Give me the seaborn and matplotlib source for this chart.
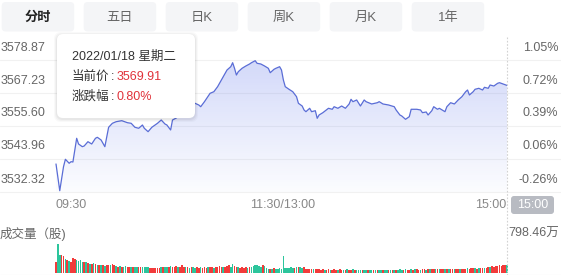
import numpy as np
import pandas as pd
import matplotlib
matplotlib.use("Agg")
import matplotlib.pyplot as plt
import seaborn as sns
from matplotlib.patches import FancyBboxPatch, Polygon

# ---------------- data ----------------
tab_labels = ["分时", "五日", "日K", "周K", "月K", "1年"]
price_ticks = [3578.87, 3567.23, 3555.60, 3543.96, 3532.32]
pct_ticks = ["1.05%", "0.72%", "0.39%", "0.06%", "-0.26%"]
time_labels = ["09:30", "11:30/13:00", "15:00"]
tooltip_date = "2022/01/18 星期二"
tooltip_price = "3569.91"
tooltip_change = "0.80%"
volume_max_label = "798.46万"

minutes = [0, 2, 4, 5, 7, 8, 9, 11, 12, 14, 15, 17, 19, 21, 22, 24, 26, 28, 30, 32,
           35, 38, 40, 42, 44, 46, 47, 49, 51, 54, 56, 58, 59, 61, 62, 64, 69, 74, 76, 77,
           79, 82, 84, 86, 87, 89, 91, 93, 94, 95, 96, 97, 99, 101, 103, 104, 106, 107, 109, 111,
           113, 114, 116, 117, 119, 120, 121, 122, 124, 126, 128, 129, 131, 132, 133, 135, 136, 138, 139, 140,
           142, 145, 147, 148, 150, 152, 154, 156, 157, 158, 160, 162, 164, 165, 168, 171, 172, 174, 177, 180,
           181, 183, 184, 186, 188, 189, 192, 194, 195, 197, 198, 200, 201, 203, 204, 207, 208, 210, 212, 214,
           216, 218, 219, 220, 222, 223, 225, 227, 228, 230, 231, 233, 235, 236, 238, 240]
prices = [3542.20, 3532.78, 3541.25, 3543.86, 3542.45, 3543.01, 3542.90, 3551.26, 3549.25, 3548.30,
          3548.55, 3550.06, 3549.25, 3551.26, 3551.61, 3550.66, 3548.30, 3555.14, 3556.55, 3557.11,
          3557.47, 3556.76, 3556.55, 3555.14, 3554.79, 3555.95, 3554.79, 3553.59, 3555.14, 3556.55,
          3557.71, 3556.30, 3555.95, 3554.19, 3557.71, 3558.42, 3561.24, 3563.60, 3563.00, 3562.40,
          3564.17, 3567.13, 3567.69, 3569.46, 3570.65, 3572.98, 3575.34, 3576.51, 3577.92, 3575.94,
          3573.58, 3574.74, 3575.94, 3576.75, 3577.46, 3577.92, 3578.62, 3577.71, 3577.46, 3576.75,
          3575.94, 3574.39, 3575.59, 3575.94, 3576.51, 3575.34, 3571.82, 3569.46, 3568.54, 3567.69,
          3565.93, 3563.60, 3562.65, 3561.24, 3560.64, 3561.84, 3560.64, 3560.99, 3558.31, 3559.48,
          3560.29, 3561.84, 3561.49, 3562.40, 3561.84, 3562.65, 3561.84, 3563.36, 3565.01, 3564.17,
          3564.77, 3562.65, 3564.77, 3564.17, 3563.36, 3563.81, 3564.17, 3563.36, 3563.00, 3562.40,
          3561.24, 3559.48, 3559.12, 3557.96, 3558.88, 3561.49, 3561.49, 3561.24, 3560.29, 3560.54,
          3559.48, 3560.99, 3562.40, 3561.49, 3561.84, 3560.64, 3562.40, 3563.81, 3563.36, 3564.77,
          3565.93, 3567.69, 3568.29, 3566.53, 3567.69, 3568.54, 3568.89, 3568.29, 3569.24, 3568.89,
          3570.05, 3569.70, 3570.65, 3570.87, 3570.41, 3569.91]

volumes = [308, 798, 499, 490, 471, 381, 362, 346, 319, 409, 400, 362, 346, 362, 308, 308, 308, 272, 253, 253,
           272, 245, 237, 237, 218, 237, 199, 218, 237, 218, 245, 237, 199, 183, 199, 183, 183, 199, 183, 163,
           183, 163, 163, 183, 163, 183, 163, 163, 183, 163, 144, 150, 144, 140, 150, 144, 163, 163, 183, 163,
           183, 199, 183, 163, 199, 183, 163, 218, 183, 163, 163, 150, 163, 183, 150, 163, 144, 163, 150, 163,
           144, 163, 183, 163, 150, 163, 183, 199, 183, 163, 183, 199, 218, 183, 245, 199, 183, 163, 150, 163,
           150, 163, 144, 163, 183, 199, 218, 237, 199, 183, 218, 199, 136, 128, 120, 128, 136, 120, 128, 136, 128,
           471, 150, 144, 150, 163, 150, 144, 183, 163, 183, 150, 163, 123, 128, 120, 115, 123, 128, 115, 109,
           100, 109, 96, 100, 104, 96, 100, 109, 100, 96, 104, 100, 96, 100, 109, 96, 100, 104, 96, 90,
           82, 90, 82, 77, 85, 82, 90, 82, 77, 82, 90, 85, 82, 77, 82, 90, 85, 82, 90, 85,
           96, 100, 104, 100, 96, 109, 100, 96, 104, 100, 109, 104, 100, 96, 109, 104, 100, 109, 104, 115,
           115, 109, 120, 115, 109, 120, 115, 123, 115, 120, 128, 115, 120, 123, 115, 128, 120, 128, 136, 128,
           136, 144, 136, 128, 140, 136, 144, 150, 136, 183, 163, 199, 183, 205, 199, 215, 209, 218, 215, 226]
volume_dirs = ("rggrrgrgrrrggggrgrgr"
               "grgrgrgrrgrrgrgrggrr"
               "grggrrggggrrrrrrgrgg"
               "rgrrrgrrrgrgrggrrgrr"
               "rgrrgrrrrgrrrggrrgrr"
               "rrgrggggggrgggrgrgggg"
               "ggggggrgrggrrrrrgrrr"
               "rrgrrgrrrgrrgrgrrgrg"
               "ggrggrggrgrggrggrgrg"
               "rgggrgrrgrgrrgrrgrgr"
               "rgrgrrgrgrrgrrgrrrgr"
               "rrgrgrrgrrgrrrrrrrrg")

# ---------------- figure ----------------
W, H = 561, 275
sns.set_theme(style="white")
plt.rcParams["font.family"] = ["Liberation Sans", "Noto Sans CJK SC", "DejaVu Sans"]

fig = plt.figure(figsize=(W / 100, H / 100), dpi=100)
fig.patch.set_facecolor("white")


def px_axes(x0, y0, x1, y1):
    return fig.add_axes([x0 / W, 1 - y1 / H, (x1 - x0) / W, (y1 - y0) / H])


PX_PER_MIN = 451 / 240.0
X0 = 56
PX_PER_PT = 132 / (price_ticks[0] - price_ticks[-1])
xlim = (-X0 / PX_PER_MIN, (W - X0) / PX_PER_MIN)

# price axes
ax = px_axes(0, 35, W, 192)
for lv in price_ticks:
    ax.axhline(lv, color="#f1f1f1", lw=0.8, zorder=0, clip_on=False)

df = pd.DataFrame({"minute": minutes, "price": prices})
ybot = price_ticks[-1]
verts = list(zip(minutes, prices)) + [(minutes[-1], ybot), (minutes[0], ybot)]
clip_poly = Polygon(verts, closed=True, facecolor="none", edgecolor="none",
                    transform=ax.transData)
ax.add_patch(clip_poly)
grad = np.zeros((256, 1, 4))
grad[:, 0, 0] = 0.36
grad[:, 0, 1] = 0.45
grad[:, 0, 2] = 0.92
grad[:, 0, 3] = np.linspace(0.27, 0.02, 256)
im = ax.imshow(grad, extent=[minutes[0], minutes[-1], ybot, max(prices)],
               aspect="auto", origin="upper", zorder=1, interpolation="bilinear")
im.set_clip_path(clip_poly)
sns.lineplot(data=df, x="minute", y="price", ax=ax, color="#5a6dd6", lw=0.9, zorder=3)
ax.set_xlim(*xlim)
ax.set_ylim(ybot, ybot + 157 / PX_PER_PT)
ax.axis("off")

for lv in price_ticks:
    ax.annotate(f"{lv:.2f}", xy=(0, lv), xycoords=("axes fraction", "data"),
                xytext=(0.5, 9), textcoords="offset points", ha="left", va="center",
                fontsize=9, color="#666666", annotation_clip=False)
for lv, lbl in zip(price_ticks, pct_ticks):
    ax.annotate(lbl, xy=(1, lv), xycoords=("axes fraction", "data"),
                xytext=(-2, 9), textcoords="offset points", ha="right", va="center",
                fontsize=9, color="#666666", annotation_clip=False)

# volume axes
vax = px_axes(0, 244, W, 273.3)
cmap = {"r": "#f23b3b", "g": "#2cc59c"}
vax.bar(range(len(volumes)), volumes, width=0.85,
        color=[cmap[c] for c in volume_dirs], linewidth=0)
vax.set_xlim(*xlim)
vax.set_ylim(0, 798.46)
vax.axis("off")

# overlay (pixel coordinates)
ov = px_axes(0, 0, W, H)
ov.set_xlim(0, W)
ov.set_ylim(H, 0)
ov.axis("off")
ov.patch.set_alpha(0)

# tabs
for i, lbl in enumerate(tab_labels):
    x0 = 1.7 + 82 * i
    ov.add_patch(FancyBboxPatch((x0, 2), 72.5, 29.5, boxstyle="round,pad=0,rounding_size=4",
                                facecolor="#f4f5f7", edgecolor="none"))
    ov.text(x0 + 36.25, 17.5, lbl, ha="center", va="center", fontsize=9.5,
            color="#222222" if i == 0 else "#666666",
            fontweight="bold" if i == 0 else "normal")

# vertical dashed line at close
ov.plot([507, 507], [37, 275], color="#d2d2d2", lw=0.8, linestyle=(0, (1.5, 1.5)))
# bottom line
ov.plot([0, W], [274.5, 274.5], color="#e6e6e6", lw=0.8)

# tooltip with soft shadow
for k, a in enumerate([0.025, 0.03, 0.04]):
    d = 3 - k
    ov.add_patch(FancyBboxPatch((57 - d, 34 - d + 1), 138 + 2 * d, 84 + 2 * d,
                                boxstyle="round,pad=0,rounding_size=7",
                                facecolor="#000000", alpha=a, edgecolor="none"))
ov.add_patch(FancyBboxPatch((57, 34), 138, 84, boxstyle="round,pad=0,rounding_size=6",
                            facecolor="white", edgecolor="none"))
ov.text(72, 56.5, tooltip_date, ha="left", va="center", fontsize=9, color="#333333")
ov.text(72, 76.5, "当前价", ha="left", va="center", fontsize=9, color="#333333")
ov.text(111, 76.5, ":", ha="left", va="center", fontsize=9, color="#333333")
ov.text(117, 76.5, tooltip_price, ha="left", va="center", fontsize=9, color="#e0323a")
ov.text(72, 96.5, "涨跌幅", ha="left", va="center", fontsize=9, color="#333333")
ov.text(111, 96.5, ":", ha="left", va="center", fontsize=9, color="#333333")
ov.text(117, 96.5, tooltip_change, ha="left", va="center", fontsize=9, color="#e0323a")

# time labels
ov.text(56, 205, time_labels[0], ha="left", va="center", fontsize=9, color="#888888")
ov.text(283, 205, time_labels[1], ha="center", va="center", fontsize=9, color="#888888")
ov.text(506, 205, time_labels[2], ha="right", va="center", fontsize=9, color="#888888")
ov.add_patch(FancyBboxPatch((511, 196), 43, 18, boxstyle="round,pad=0,rounding_size=3",
                            facecolor="#b8bbc2", edgecolor="none"))
ov.text(532.5, 205, time_labels[2], ha="center", va="center", fontsize=9, color="white")

# volume labels
ov.text(0, 234, "成交量（股)", ha="left", va="center", fontsize=9, color="#666666")
ov.text(508, 234, volume_max_label, ha="left", va="center", fontsize=9, color="#666666")

fig.savefig("out.png", dpi=100, facecolor="white")
